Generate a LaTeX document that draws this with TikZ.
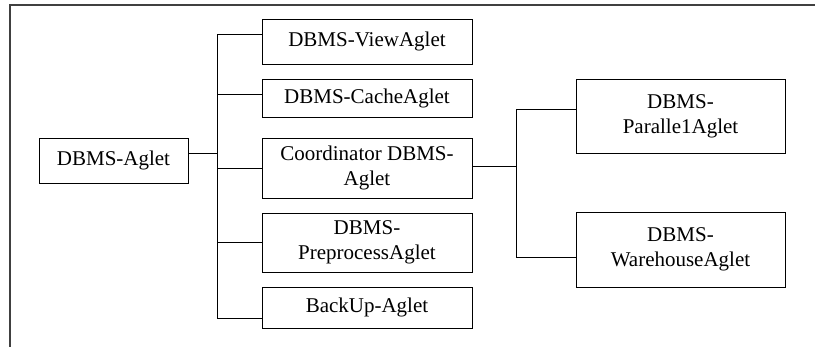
\documentclass[tikz,border=0pt]{standalone}
\usepackage{fontspec}
\setmainfont{Liberation Serif}
\usepackage{tikz}

\begin{document}
\begin{tikzpicture}[x=1pt,y=-1pt,
  agletbox/.style={draw, line width=0.9pt, inner sep=0pt, align=center,
    minimum width=210pt, font=\fontsize{21}{25}\selectfont},
  link/.style={line width=0.9pt}]
\useasboundingbox (0,0) rectangle (815,347);
\draw[line width=1.6pt, black!75] (10,347) -- (10,5) -- (815,5);

\node[agletbox, minimum width=149pt, minimum height=45pt] (dbms) at (113.5,160.5) {DBMS-Aglet};

\node[agletbox, minimum height=45pt] (view) at (367,41.5) {DBMS-ViewAglet};
\node[agletbox, minimum height=38pt] (cache) at (367,98) {DBMS-CacheAglet};
\node[agletbox, minimum height=60pt] (coord) at (367,168) {Coordinator DBMS-\\Aglet};
\node[agletbox, minimum height=59pt] (prep) at (367,242.5) {DBMS-\\PreprocessAglet};
\node[agletbox, minimum height=41pt] (backup) at (367,307.5) {BackUp-Aglet};

\node[agletbox, minimum width=209pt, minimum height=74pt] (par) at (680.5,116) {DBMS-\\Paralle1Aglet};
\node[agletbox, minimum width=209pt, minimum height=75pt] (ware) at (680.5,249.5) {DBMS-\\WarehouseAglet};

\coordinate (hubL) at (217,153);
\coordinate (hubR) at (516,166);

\draw[link] ([yshift=7.5pt]dbms.east) -- (hubL);
\draw[link] ([yshift=7.5pt]view.west) -| (hubL);
\draw[link] ([yshift=4pt]cache.west) -| (hubL);
\draw[link] (coord.west) -| (hubL);
\draw[link] (prep.west) -| (hubL);
\draw[link] ([yshift=-10.5pt]backup.west) -| (hubL);

\draw[link] ([yshift=2pt]coord.east) -- (hubR);
\draw[link] ([yshift=7pt]par.west) -| (hubR);
\draw[link] ([yshift=-7.5pt]ware.west) -| (hubR);
\end{tikzpicture}
\end{document}
